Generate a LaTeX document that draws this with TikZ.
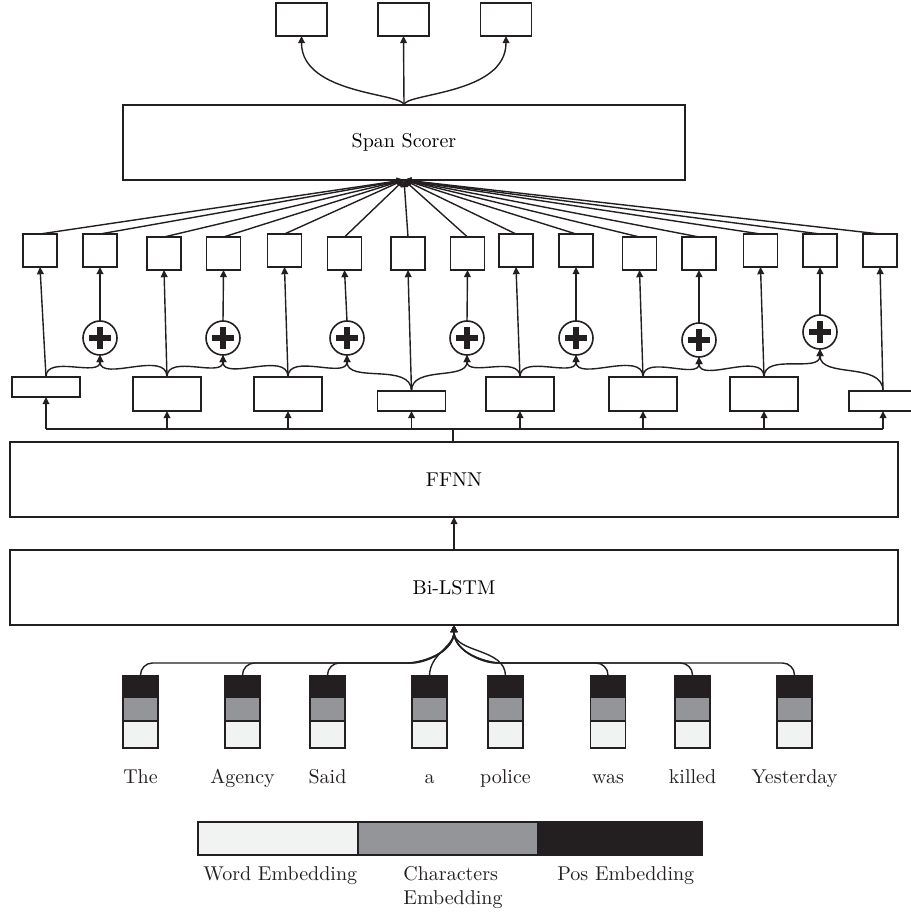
\documentclass[tikz,border=0pt]{standalone}
\usepackage{tikz}
\usetikzlibrary{arrows.meta,positioning,calc}
\definecolor{ink}{RGB}{35,31,32}
\definecolor{posc}{RGB}{35,31,32}
\definecolor{chrc}{RGB}{147,149,152}
\definecolor{wrdc}{RGB}{241,242,242}
\tikzset{
  layer/.style={draw=ink,line width=1.3pt,minimum width=444pt,minimum height=37.5pt,inner sep=0pt,outer sep=0pt},
  cell/.style={draw=ink,line width=0.8pt,fill=white,minimum width=17pt,minimum height=16.5pt,inner sep=0pt,outer sep=0pt},
  outbox/.style={cell,minimum width=25.5pt},
  rep/.style={cell,minimum width=34pt,minimum height=17pt},
  repthin/.style={rep,minimum height=10pt},
  plus/.style={circle,draw=ink,line width=0.8pt,fill=white,minimum size=17pt,inner sep=0pt,outer sep=0pt,
    path picture={
      \fill[ink] ([shift={(-1.4pt,-5.5pt)}]path picture bounding box.center) rectangle ++(2.8pt,11pt);
      \fill[ink] ([shift={(-5.5pt,-1.4pt)}]path picture bounding box.center) rectangle ++(11pt,2.8pt);}},
  emb/.style={draw=ink,line width=0.6pt,minimum width=17.5pt,inner sep=0pt,outer sep=0pt},
  arr/.style={-{Triangle[length=3.6pt,width=3.4pt]},line width=0.7pt,ink},
  word/.style={inner sep=0pt,text=ink},
}

\begin{document}
\begin{tikzpicture}[x=0.5pt,y=-0.5pt]
\useasboundingbox (0,0) rectangle (910,919);

% outputs and scorer
\node[outbox] (o1) at (301.5,19.5) {};
\node[outbox] (o2) at (403.5,19.5) {};
\node[outbox] (o3) at (506,19.5) {};
\node[layer,minimum width=281pt] (S) at (404,142.5) {Span Scorer};
\draw[arr] (S.north) .. controls +(0,-12) and +(0,59) .. (o1.south);
\draw[arr] (S.north) -- (o2.south);
\draw[arr] (S.north) .. controls +(0,-12) and +(0,59) .. (o3.south);

% span vectors
\foreach \n/\x/\y in {1/40/250.5,2/100/250.5,3/164/253.5,4/223.5/253.5,5/284.5/250.5,
    6/344.5/253.5,7/408/253.5,8/467.5/253.5,9/516/250.5,10/576/250.5,11/639.5/253.5,
    12/699/253.5,13/760.5/250.5,14/820/250.5,15/880/250.5}{
  \node[cell] (v\n) at (\x,\y) {};
  \draw[arr] (v\n.north) -- (S.south);
}

% sums
\foreach \n/\x/\y in {1/100/338,2/223/338,3/347/338,4/467/338,5/576/338,6/699/340,7/820/332}
  \node[plus] (m\n) at (\x,\y) {};

% word representations
\node[repthin] (r1) at (46,387) {};
\node[rep] (r2) at (167,394) {};
\node[rep] (r3) at (288,394) {};
\node[repthin] (r4) at (411.5,401) {};
\node[rep] (r5) at (520,394) {};
\node[rep] (r6) at (643,394) {};
\node[rep] (r7) at (764,394) {};
\node[repthin] (r8) at (883,401) {};

\foreach \r/\v in {1/1,2/3,3/5,4/7,5/9,6/11,7/13,8/15}
  \draw[arr] (r\r.north) -- (v\v.south);
\foreach \m/\v in {1/2,2/4,3/6,4/8,5/10,6/12,7/14}
  \draw[arr] (m\m.north) -- (v\v.south);
\foreach \r/\m in {1/1,2/1,2/2,3/2,3/3,4/3,4/4,5/4,5/5,6/5,6/6,7/6,7/7,8/7}
  \draw[arr] (r\r.north) to[out=90,in=-90] (m\m.south);

% encoder
\node[layer] (F) at (454,479.5) {FFNN};
\node[layer] (Bi) at (454,587.5) {Bi-LSTM};
\coordinate (bus) at (453,429);
\draw[line width=0.7pt,ink] (r1.south |- bus) -- (r8.south |- bus);
\draw[line width=0.7pt,ink] (F.north -| bus) -- (bus);
\foreach \r in {1,...,8}
  \draw[arr] (r\r.south |- bus) -- (r\r.south);
\draw[arr] (Bi.north) -- (F.south);

% embeddings of the words
\foreach \n/\x/\t in {1/140.5/The,2/242.5/Agency,3/327.5/Said,4/429.5/a,
    5/505.5/police,6/608/was,7/692.5/killed,8/794.5/Yesterday}{
  \node[emb,fill=posc,minimum height=10.5pt] (p\n) at (\x,686.5) {};
  \node[emb,fill=chrc,minimum height=12pt,below=0pt of p\n] (g\n) {};
  \node[emb,fill=wrdc,minimum height=13.5pt,below=0pt of g\n] (w\n) {};
  \node[word,anchor=base] (t\n) at (\x,783) {\t};
}
\foreach \n/\d in {1/-60,2/-57,3/-54}
  \draw[arr,rounded corners=6pt] (p\n.north) |- ($(Bi.south)+(\d,38)$) to[out=0,in=-90] (Bi.south);
\foreach \n/\d in {6/54,7/57,8/60}
  \draw[arr,rounded corners=6pt] (p\n.north) |- ($(Bi.south)+(\d,38)$) to[out=180,in=-90] (Bi.south);
\draw[arr] (p4.north) to[out=90,in=-90] (Bi.south);
\draw[arr] (p5.north) to[out=90,in=-90] (Bi.south);

% legend
\node[emb,fill=wrdc,minimum width=80pt,minimum height=16.5pt] (lw) at (278,838.5) {};
\node[emb,fill=chrc,minimum width=90pt,minimum height=16.5pt,right=0pt of lw] (lc) {};
\node[emb,fill=posc,minimum width=82pt,minimum height=16.5pt,right=0pt of lc] (lp) {};
\node[word,anchor=north west] (tw) at (203,866) {Word Embedding};
\node[word,anchor=north west,align=left] (tc) at (403,866) {Characters\\Embedding};
\node[word,anchor=north west] (tp) at (557,866) {Pos Embedding};
\end{tikzpicture}
\end{document}
